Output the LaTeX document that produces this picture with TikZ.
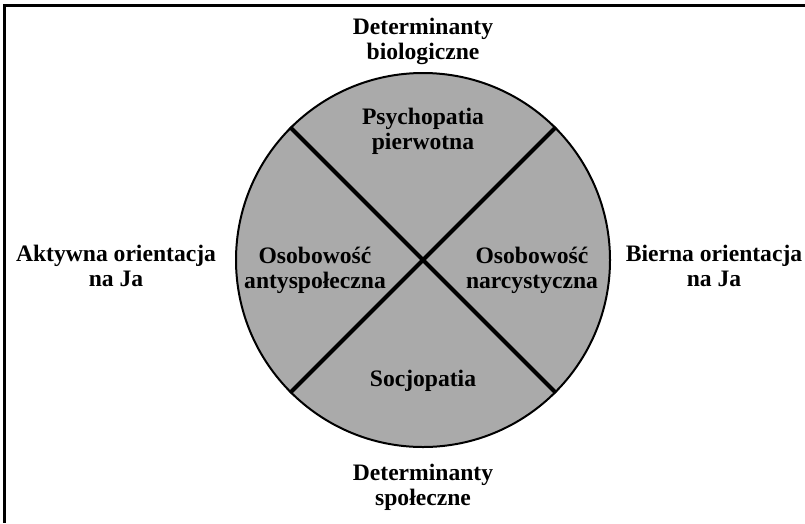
\documentclass[tikz,border=0pt]{standalone}
\usepackage{fontspec}
\setmainfont{Liberation Serif}
\usetikzlibrary{positioning}
\definecolor{quadgray}{RGB}{170,170,170}
\tikzstyle{txt} = [font=\fontsize{23.6}{25}\selectfont\bfseries, align=center, inner sep=0pt]
\tikzstyle{wheel} = [circle, minimum size=374pt, inner sep=0pt, draw=black, line width=2pt, fill=quadgray]
\tikzstyle{divider} = [line width=4pt]

\begin{document}
\begin{tikzpicture}[x=1pt, y=-1pt]
\useasboundingbox (0,0) rectangle (805,523);
\draw[line width=3pt] (805,5) -- (4,5) -- (4,523);
\node (w) [wheel] at (423,260) {};
\draw[divider] (w.135) -- (w.-45);
\draw[divider] (w.45) -- (w.-135);
\node (top) [txt] at (423,41) {Determinanty\\biologiczne};
\node (bot) [txt] at (423,487) {Determinanty\\społeczne};
\node (left) [txt] at (116,266) {Aktywna orientacja\\na Ja};
\node (right) [txt] at (714,266) {Bierna orientacja\\na Ja};
\node (psy) [txt] at (423,131) {Psychopatia\\pierwotna};
\node (soc) [txt] at (423,381) {Socjopatia};
\node (anty) [txt] at (315,270) {Osobowość\\antyspołeczna};
\node (narc) [txt] at (532,270) {Osobowość\\narcystyczna};
\end{tikzpicture}
\end{document}
